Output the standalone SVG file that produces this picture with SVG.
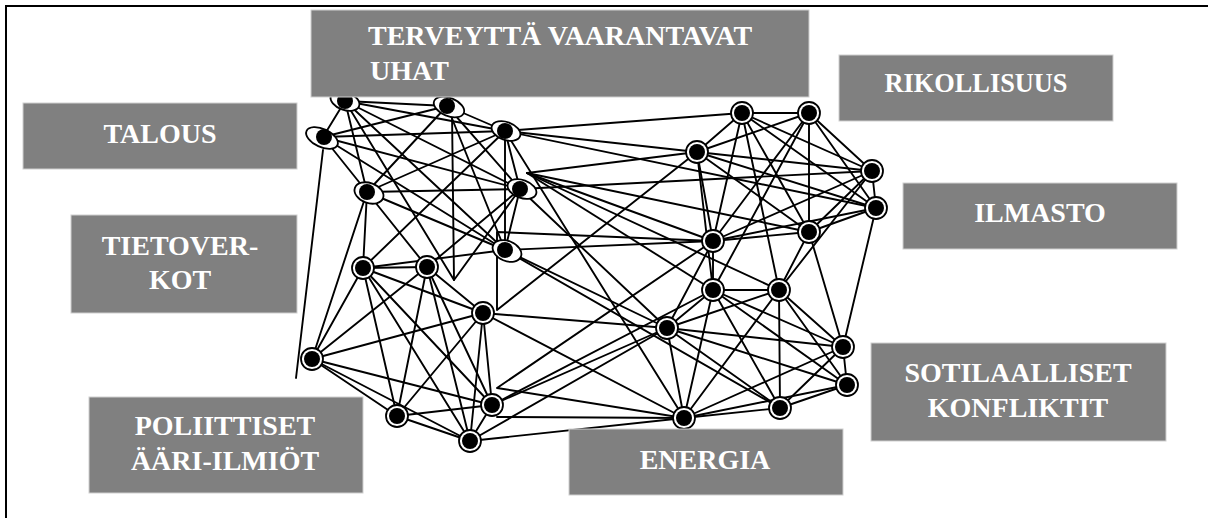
<svg xmlns="http://www.w3.org/2000/svg" width="1208" height="518" viewBox="0 0 1208 518">
  <style>
    .frame { stroke: #000; stroke-width: 2; fill: none; }
    .edge { stroke: #000; stroke-width: 1.9; fill: none; stroke-linecap: round; stroke-linejoin: round; }
    .dot { fill: #000; }
    .ring { fill: #fff; stroke: #000; stroke-width: 1.8; }
    .box { fill: #808080; stroke: #cfcfcf; stroke-width: 1; }
    .lbl { font-family: "Liberation Serif", "Times New Roman", serif; font-weight: bold; font-size: 28px; fill: #fff; }
  </style>

  <!-- page frame -->
  <path class="frame" d="M6,518 V6 H1208"/>

  <!-- connectors -->
  <g id="connectors">
    <!-- upper left cluster -->
    <line class="edge" x1="345" y1="101" x2="447" y2="106"/>
    <line class="edge" x1="345" y1="101" x2="323" y2="137"/>
    <line class="edge" x1="345" y1="101" x2="505" y2="131"/>
    <line class="edge" x1="345" y1="101" x2="367" y2="192"/>
    <line class="edge" x1="345" y1="101" x2="520" y2="189"/>
    <line class="edge" x1="345" y1="101" x2="505" y2="250"/>
    <line class="edge" x1="447" y1="106" x2="323" y2="137"/>
    <line class="edge" x1="447" y1="106" x2="505" y2="131"/>
    <line class="edge" x1="447" y1="106" x2="367" y2="192"/>
    <line class="edge" x1="447" y1="106" x2="520" y2="189"/>
    <line class="edge" x1="447" y1="106" x2="505" y2="250"/>
    <line class="edge" x1="323" y1="137" x2="505" y2="131"/>
    <line class="edge" x1="323" y1="137" x2="367" y2="192"/>
    <line class="edge" x1="323" y1="137" x2="520" y2="189"/>
    <line class="edge" x1="323" y1="137" x2="505" y2="250"/>
    <line class="edge" x1="505" y1="131" x2="367" y2="192"/>
    <line class="edge" x1="505" y1="131" x2="520" y2="189"/>
    <line class="edge" x1="505" y1="131" x2="505" y2="250"/>
    <line class="edge" x1="367" y1="192" x2="520" y2="189"/>
    <line class="edge" x1="367" y1="192" x2="505" y2="250"/>
    <line class="edge" x1="520" y1="189" x2="505" y2="250"/>

    <!-- lower left cluster -->
    <line class="edge" x1="363" y1="268" x2="427" y2="267"/>
    <line class="edge" x1="363" y1="268" x2="483" y2="313"/>
    <line class="edge" x1="363" y1="268" x2="312" y2="359"/>
    <line class="edge" x1="363" y1="268" x2="397" y2="416"/>
    <line class="edge" x1="363" y1="268" x2="492" y2="405"/>
    <line class="edge" x1="363" y1="268" x2="470" y2="441"/>
    <line class="edge" x1="427" y1="267" x2="483" y2="313"/>
    <line class="edge" x1="427" y1="267" x2="312" y2="359"/>
    <line class="edge" x1="427" y1="267" x2="397" y2="416"/>
    <line class="edge" x1="427" y1="267" x2="492" y2="405"/>
    <line class="edge" x1="427" y1="267" x2="470" y2="441"/>
    <line class="edge" x1="483" y1="313" x2="312" y2="359"/>
    <line class="edge" x1="483" y1="313" x2="397" y2="416"/>
    <line class="edge" x1="483" y1="313" x2="492" y2="405"/>
    <line class="edge" x1="483" y1="313" x2="470" y2="441"/>
    <line class="edge" x1="312" y1="359" x2="397" y2="416"/>
    <line class="edge" x1="312" y1="359" x2="492" y2="405"/>
    <line class="edge" x1="312" y1="359" x2="470" y2="441"/>
    <line class="edge" x1="397" y1="416" x2="492" y2="405"/>
    <line class="edge" x1="397" y1="416" x2="470" y2="441"/>
    <line class="edge" x1="492" y1="405" x2="470" y2="441"/>

    <!-- upper right cluster -->
    <line class="edge" x1="742" y1="113" x2="697" y2="152"/>
    <line class="edge" x1="742" y1="113" x2="809" y2="113"/>
    <line class="edge" x1="742" y1="113" x2="872" y2="171"/>
    <line class="edge" x1="742" y1="113" x2="876" y2="208"/>
    <line class="edge" x1="742" y1="113" x2="809" y2="232"/>
    <line class="edge" x1="742" y1="113" x2="713" y2="241"/>
    <line class="edge" x1="697" y1="152" x2="809" y2="113"/>
    <line class="edge" x1="697" y1="152" x2="872" y2="171"/>
    <line class="edge" x1="697" y1="152" x2="876" y2="208"/>
    <line class="edge" x1="697" y1="152" x2="809" y2="232"/>
    <line class="edge" x1="697" y1="152" x2="713" y2="241"/>
    <line class="edge" x1="809" y1="113" x2="872" y2="171"/>
    <line class="edge" x1="809" y1="113" x2="876" y2="208"/>
    <line class="edge" x1="809" y1="113" x2="809" y2="232"/>
    <line class="edge" x1="809" y1="113" x2="713" y2="241"/>
    <line class="edge" x1="872" y1="171" x2="876" y2="208"/>
    <line class="edge" x1="872" y1="171" x2="809" y2="232"/>
    <line class="edge" x1="872" y1="171" x2="713" y2="241"/>
    <line class="edge" x1="876" y1="208" x2="809" y2="232"/>
    <line class="edge" x1="876" y1="208" x2="713" y2="241"/>
    <line class="edge" x1="809" y1="232" x2="713" y2="241"/>

    <!-- lower right cluster -->
    <line class="edge" x1="713" y1="290" x2="779" y2="290"/>
    <line class="edge" x1="713" y1="290" x2="667" y2="328"/>
    <line class="edge" x1="713" y1="290" x2="843" y2="347"/>
    <line class="edge" x1="713" y1="290" x2="847" y2="385"/>
    <line class="edge" x1="713" y1="290" x2="684" y2="418"/>
    <line class="edge" x1="713" y1="290" x2="780" y2="408"/>
    <line class="edge" x1="779" y1="290" x2="667" y2="328"/>
    <line class="edge" x1="779" y1="290" x2="843" y2="347"/>
    <line class="edge" x1="779" y1="290" x2="847" y2="385"/>
    <line class="edge" x1="779" y1="290" x2="684" y2="418"/>
    <line class="edge" x1="779" y1="290" x2="780" y2="408"/>
    <line class="edge" x1="667" y1="328" x2="843" y2="347"/>
    <line class="edge" x1="667" y1="328" x2="847" y2="385"/>
    <line class="edge" x1="667" y1="328" x2="684" y2="418"/>
    <line class="edge" x1="667" y1="328" x2="780" y2="408"/>
    <line class="edge" x1="843" y1="347" x2="847" y2="385"/>
    <line class="edge" x1="843" y1="347" x2="684" y2="418"/>
    <line class="edge" x1="843" y1="347" x2="780" y2="408"/>
    <line class="edge" x1="847" y1="385" x2="684" y2="418"/>
    <line class="edge" x1="847" y1="385" x2="780" y2="408"/>
    <line class="edge" x1="684" y1="418" x2="780" y2="408"/>

    <!-- links between the clusters -->
    <line class="edge" x1="505" y1="131" x2="742" y2="113"/>
    <line class="edge" x1="505" y1="131" x2="697" y2="152"/>
    <line class="edge" x1="505" y1="131" x2="876" y2="208"/>
    <line class="edge" x1="505" y1="131" x2="684" y2="418"/>
    <line class="edge" x1="520" y1="189" x2="872" y2="171"/>
    <line class="edge" x1="520" y1="189" x2="667" y2="328"/>
    <polyline class="edge" points="697,152 527,173 713,241"/>
    <line class="edge" x1="527" y1="173" x2="809" y2="232"/>
    <line class="edge" x1="527" y1="173" x2="713" y2="290"/>
    <line class="edge" x1="527" y1="173" x2="779" y2="290"/>
    <line class="edge" x1="505" y1="250" x2="713" y2="241"/>
    <line class="edge" x1="505" y1="250" x2="667" y2="328"/>
    <line class="edge" x1="505" y1="250" x2="780" y2="408"/>
    <polyline class="edge" points="713,241 497,232 497,310 697,152"/>
    <polyline class="edge" points="713,241 497,388 684,418"/>
    <line class="edge" x1="497" y1="417" x2="684" y2="418"/>
    <line class="edge" x1="483" y1="313" x2="667" y2="328"/>
    <line class="edge" x1="483" y1="313" x2="684" y2="418"/>
    <line class="edge" x1="492" y1="405" x2="667" y2="328"/>
    <line class="edge" x1="492" y1="405" x2="713" y2="290"/>
    <line class="edge" x1="470" y1="441" x2="667" y2="328"/>
    <line class="edge" x1="470" y1="441" x2="684" y2="418"/>
    <line class="edge" x1="742" y1="113" x2="779" y2="290"/>
    <line class="edge" x1="697" y1="152" x2="713" y2="290"/>
    <line class="edge" x1="809" y1="232" x2="779" y2="290"/>
    <line class="edge" x1="809" y1="232" x2="843" y2="347"/>
    <line class="edge" x1="876" y1="208" x2="843" y2="347"/>
    <line class="edge" x1="713" y1="241" x2="713" y2="290"/>
    <line class="edge" x1="713" y1="241" x2="667" y2="328"/>
    <line class="edge" x1="809" y1="113" x2="713" y2="290"/>
    <line class="edge" x1="872" y1="171" x2="779" y2="290"/>
    <line class="edge" x1="367" y1="192" x2="363" y2="268"/>
    <line class="edge" x1="367" y1="192" x2="427" y2="267"/>
    <line class="edge" x1="520" y1="189" x2="427" y2="267"/>
    <line class="edge" x1="505" y1="250" x2="363" y2="268"/>
    <line class="edge" x1="505" y1="131" x2="363" y2="268"/>
    <line class="edge" x1="367" y1="192" x2="312" y2="359"/>
    <line class="edge" x1="323" y1="150" x2="296" y2="378"/>
    <polyline class="edge" points="345,101 454,280 520,189"/>
    <line class="edge" x1="452" y1="112" x2="454" y2="280"/>
  </g>

  <!-- upper left cluster nodes -->
  <g id="node-a"><ellipse class="ring" cx="345" cy="101" rx="15" ry="9" transform="rotate(20 345 101)"/><circle class="dot" cx="345" cy="101" r="8"/></g>
  <g id="node-b"><ellipse class="ring" cx="449" cy="107" rx="16" ry="9" transform="rotate(22 449 107)"/><circle class="dot" cx="447" cy="106" r="8"/></g>
  <g id="node-c"><ellipse class="ring" cx="322" cy="138" rx="17" ry="9" transform="rotate(25 322 138)"/><circle class="dot" cx="324" cy="137" r="8"/></g>
  <g id="node-d"><ellipse class="ring" cx="506" cy="131" rx="15" ry="9" transform="rotate(20 506 131)"/><circle class="dot" cx="505" cy="131" r="8"/></g>
  <g id="node-e"><ellipse class="ring" cx="369" cy="193" rx="15" ry="10" transform="rotate(20 369 193)"/><circle class="dot" cx="367" cy="192" r="8"/></g>
  <g id="node-f"><ellipse class="ring" cx="522" cy="189" rx="15" ry="9" transform="rotate(20 522 189)"/><circle class="dot" cx="520" cy="189" r="8"/></g>
  <g id="node-g"><ellipse class="ring" cx="507" cy="251" rx="15" ry="10" transform="rotate(22 507 251)"/><circle class="dot" cx="505" cy="250" r="8"/></g>

  <!-- lower left cluster nodes -->
  <g id="node-h"><circle class="ring" cx="363" cy="268" r="11"/><circle class="dot" cx="363" cy="268" r="8"/></g>
  <g id="node-i"><circle class="ring" cx="427" cy="267" r="11"/><circle class="dot" cx="427" cy="267" r="8"/></g>
  <g id="node-j"><circle class="ring" cx="483" cy="313" r="11"/><circle class="dot" cx="483" cy="313" r="8"/></g>
  <g id="node-k"><circle class="ring" cx="312" cy="359" r="11"/><circle class="dot" cx="312" cy="359" r="8"/></g>
  <g id="node-l"><circle class="ring" cx="397" cy="416" r="11"/><circle class="dot" cx="397" cy="416" r="8"/></g>
  <g id="node-m"><circle class="ring" cx="492" cy="405" r="11"/><circle class="dot" cx="492" cy="405" r="8"/></g>
  <g id="node-n"><circle class="ring" cx="470" cy="441" r="11"/><circle class="dot" cx="470" cy="441" r="8"/></g>

  <!-- upper right cluster nodes -->
  <g id="node-o"><circle class="ring" cx="742" cy="113" r="11"/><circle class="dot" cx="742" cy="113" r="8"/></g>
  <g id="node-p"><circle class="ring" cx="697" cy="152" r="11"/><circle class="dot" cx="697" cy="152" r="8"/></g>
  <g id="node-q"><circle class="ring" cx="809" cy="113" r="11"/><circle class="dot" cx="809" cy="113" r="8"/></g>
  <g id="node-r"><circle class="ring" cx="872" cy="171" r="11"/><circle class="dot" cx="872" cy="171" r="8"/></g>
  <g id="node-s"><circle class="ring" cx="876" cy="208" r="11"/><circle class="dot" cx="876" cy="208" r="8"/></g>
  <g id="node-t"><circle class="ring" cx="809" cy="232" r="11"/><circle class="dot" cx="809" cy="232" r="8"/></g>
  <g id="node-u"><circle class="ring" cx="713" cy="241" r="11"/><circle class="dot" cx="713" cy="241" r="8"/></g>

  <!-- lower right cluster nodes -->
  <g id="node-v"><circle class="ring" cx="713" cy="290" r="11"/><circle class="dot" cx="713" cy="290" r="8"/></g>
  <g id="node-w"><circle class="ring" cx="779" cy="290" r="11"/><circle class="dot" cx="779" cy="290" r="8"/></g>
  <g id="node-x"><circle class="ring" cx="667" cy="328" r="11"/><circle class="dot" cx="667" cy="328" r="8"/></g>
  <g id="node-y"><circle class="ring" cx="843" cy="347" r="11"/><circle class="dot" cx="843" cy="347" r="8"/></g>
  <g id="node-z"><circle class="ring" cx="847" cy="385" r="11"/><circle class="dot" cx="847" cy="385" r="8"/></g>
  <g id="node-aa"><circle class="ring" cx="684" cy="418" r="11"/><circle class="dot" cx="684" cy="418" r="8"/></g>
  <g id="node-bb"><circle class="ring" cx="780" cy="408" r="11"/><circle class="dot" cx="780" cy="408" r="8"/></g>

  <!-- theme labels -->
  <g id="label-terveys">
    <rect class="box" x="311" y="10" width="498" height="87"/>
    <text class="lbl" x="368" y="45">TERVEYTTÄ VAARANTAVAT</text>
    <text class="lbl" x="370" y="80">UHAT</text>
  </g>
  <g id="label-rikollisuus">
    <rect class="box" x="839" y="55" width="274" height="66"/>
    <text class="lbl" x="976" y="92" text-anchor="middle" textLength="183" lengthAdjust="spacingAndGlyphs">RIKOLLISUUS</text>
  </g>
  <g id="label-talous">
    <rect class="box" x="23" y="103" width="274" height="66"/>
    <text class="lbl" x="160" y="143" text-anchor="middle">TALOUS</text>
  </g>
  <g id="label-ilmasto">
    <rect class="box" x="903" y="183" width="274" height="66"/>
    <text class="lbl" x="1040" y="222" text-anchor="middle">ILMASTO</text>
  </g>
  <g id="label-tietoverkot">
    <rect class="box" x="71" y="215" width="226" height="98"/>
    <text class="lbl" x="180" y="255" text-anchor="middle">TIETOVER-</text>
    <text class="lbl" x="180" y="289" text-anchor="middle">KOT</text>
  </g>
  <g id="label-sotilaalliset">
    <rect class="box" x="871" y="343" width="295" height="98"/>
    <text class="lbl" x="1018" y="382" text-anchor="middle">SOTILAALLISET</text>
    <text class="lbl" x="1018" y="417" text-anchor="middle">KONFLIKTIT</text>
  </g>
  <g id="label-poliittiset">
    <rect class="box" x="89" y="397" width="274" height="96"/>
    <text class="lbl" x="225" y="435" text-anchor="middle">POLIITTISET</text>
    <text class="lbl" x="225" y="470" text-anchor="middle">ÄÄRI-ILMIÖT</text>
  </g>
  <g id="label-energia">
    <rect class="box" x="569" y="429" width="274" height="66"/>
    <text class="lbl" x="705" y="469" text-anchor="middle">ENERGIA</text>
  </g>
</svg>
